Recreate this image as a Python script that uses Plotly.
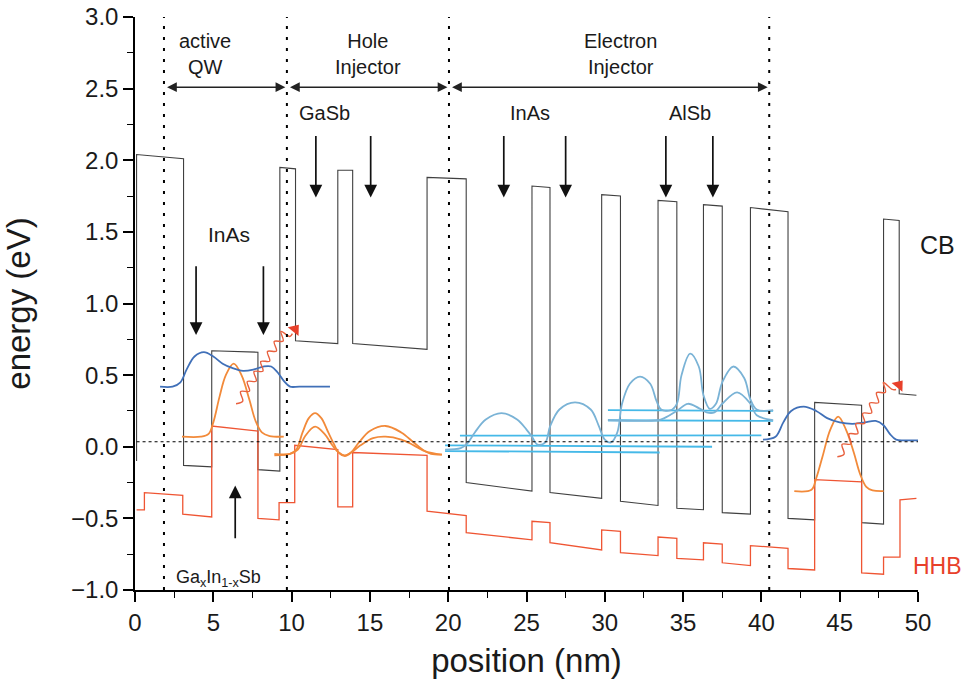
import plotly.graph_objects as go

# ---------------- data ----------------
cb_x = [0.1, 0.1, 3.1, 3.1, 4.9, 4.9, 7.85, 7.85, 9.25, 9.25, 10.25, 10.25, 12.95, 12.95, 13.9, 13.9,
        18.65, 18.65, 21.15, 21.15, 25.35, 25.35, 26.5, 26.5, 29.8, 29.8, 31.0, 31.0, 33.4, 33.4, 34.6,
        34.6, 36.3, 36.3, 37.5, 37.5, 39.3, 39.3, 41.7, 41.7, 43.4, 43.4, 46.4, 46.4, 47.8, 47.8, 48.8,
        48.8, 49.9]
cb_y = [-0.10, 2.04, 2.01, -0.13, -0.14, 0.67, 0.66, -0.16, -0.17, 1.95, 1.94, 0.74, 0.72, 1.93, 1.93,
        0.72, 0.68, 1.88, 1.87, -0.25, -0.31, 1.82, 1.81, -0.32, -0.36, 1.76, 1.75, -0.38, -0.41, 1.72,
        1.71, -0.43, -0.44, 1.69, 1.68, -0.46, -0.47, 1.67, 1.64, -0.50, -0.51, 0.31, 0.29, -0.53, -0.54,
        1.59, 1.58, 0.37, 0.36]

hh_x = [0.1, 0.6, 0.6, 3.05, 3.05, 4.9, 4.9, 7.85, 7.85, 9.2, 9.2, 10.2, 10.2, 12.95, 12.95, 13.9, 13.9,
        18.65, 18.65, 21.15, 21.15, 25.35, 25.35, 26.5, 26.5, 29.8, 29.8, 31.0, 31.0, 33.4, 33.4, 34.6,
        34.6, 36.3, 36.3, 37.5, 37.5, 39.3, 39.3, 41.7, 41.7, 43.4, 43.4, 46.4, 46.4, 47.8, 47.8, 48.85,
        48.85, 49.9]
hh_y = [-0.44, -0.44, -0.32, -0.34, -0.47, -0.49, 0.145, 0.11, -0.50, -0.51, -0.39, -0.39, 0.01, -0.02,
        -0.42, -0.42, -0.04, -0.06, -0.45, -0.48, -0.60, -0.65, -0.52, -0.53, -0.67, -0.72, -0.58, -0.59,
        -0.74, -0.76, -0.63, -0.64, -0.78, -0.79, -0.67, -0.68, -0.81, -0.83, -0.69, -0.71, -0.85, -0.86,
        -0.23, -0.245, -0.88, -0.89, -0.77, -0.77, -0.37, -0.36]

fermi_x = [0.1, 50.0]
fermi_y = [0.035, 0.035]

region_bounds = [1.85, 9.7, 20.05, 40.5]

# active QW (left)
qw1_blue_x = [1.6, 2.4, 2.9, 3.3, 3.8, 4.4, 5.0, 5.6, 6.2, 6.9, 7.6, 8.2, 8.7, 9.1, 9.5, 9.9, 10.5, 12.45]
qw1_blue_y = [0.42, 0.42, 0.45, 0.54, 0.63, 0.66, 0.63, 0.58, 0.55, 0.53, 0.54, 0.56, 0.56, 0.52, 0.46, 0.42, 0.42, 0.42]
qw1_orange_x = [3.0, 4.2, 4.7, 5.0, 5.4, 5.8, 6.3, 6.8, 7.3, 7.7, 8.1, 8.6, 9.5]
qw1_orange_y = [0.07, 0.07, 0.09, 0.17, 0.35, 0.50, 0.58, 0.50, 0.33, 0.18, 0.10, 0.075, 0.07]

# active QW (right)
qw2_blue_x = [40.1, 40.9, 41.4, 41.9, 42.7, 43.5, 44.2, 45.0, 45.8, 46.6, 47.3, 47.8, 48.2, 48.6, 49.2, 50.0]
qw2_blue_y = [0.05, 0.07, 0.17, 0.25, 0.28, 0.25, 0.20, 0.17, 0.16, 0.17, 0.18, 0.15, 0.09, 0.05, 0.045, 0.045]
qw2_orange_x = [42.1, 43.2, 43.5, 43.9, 44.4, 44.9, 45.4, 45.9, 46.3, 46.7, 47.1, 47.8]
qw2_orange_y = [-0.31, -0.30, -0.22, -0.07, 0.12, 0.21, 0.12, -0.04, -0.19, -0.28, -0.305, -0.31]

# hole injector states
hi_a_x = [8.9, 9.9, 10.3, 10.7, 11.1, 11.5, 11.9, 12.3, 12.7, 13.0, 13.4, 13.8, 14.3, 15.0, 16.0, 17.0, 17.8, 18.5, 18.9, 19.6]
hi_a_y = [-0.05, -0.05, -0.02, 0.10, 0.20, 0.235, 0.20, 0.11, 0.02, -0.04, -0.065, -0.04, 0.03, 0.11, 0.145, 0.10, 0.03, -0.03, -0.05, -0.055]
hi_b_x = [8.9, 9.9, 10.4, 10.9, 11.5, 12.1, 12.6, 13.0, 13.4, 13.8, 14.4, 15.2, 16.0, 17.0, 17.8, 18.5, 19.6]
hi_b_y = [-0.06, -0.05, -0.02, 0.08, 0.14, 0.09, 0.01, -0.04, -0.06, -0.04, 0.01, 0.06, 0.07, 0.05, 0.01, -0.03, -0.055]

# electron injector states (curves)
ei_1_x = [19.8, 20.8, 21.2, 21.7, 22.4, 23.4, 24.4, 25.0, 25.35, 25.7, 26.2, 26.5, 27.1, 28.1, 29.1, 29.6,
          30.0, 30.4, 30.8, 31.1, 31.6, 32.25, 32.9, 33.3, 33.6, 34.2, 34.6, 34.9, 35.45, 36.0, 36.3, 36.7,
          37.1, 37.5, 38.2, 38.9, 39.3, 39.7, 40.75]
ei_1_y = [-0.02, -0.01, 0.02, 0.10, 0.19, 0.235, 0.19, 0.12, 0.07, 0.015, 0.03, 0.14, 0.26, 0.31, 0.26, 0.15,
          0.05, 0.03, 0.10, 0.30, 0.44, 0.49, 0.44, 0.32, 0.26, 0.255, 0.30, 0.50, 0.65, 0.56, 0.36, 0.265,
          0.30, 0.45, 0.56, 0.48, 0.33, 0.26, 0.255]
ei_2_x = [30.2, 33.4, 33.8, 34.6, 35.3, 36.0, 36.5, 37.0, 37.5, 38.45, 39.3, 39.7, 40.75]
ei_2_y = [0.185, 0.185, 0.20, 0.25, 0.30, 0.27, 0.24, 0.24, 0.30, 0.38, 0.30, 0.22, 0.185]

# electron injector levels (flat lines)
lvl_x = [[20.75, 40.0], [19.8, 36.85], [19.8, 33.5], [30.2, 40.75], [30.2, 40.75]]
lvl_y = [[0.077, 0.08], [0.01, 0.0], [-0.03, -0.04], [0.255, 0.25], [0.185, 0.18]]

# photon squiggles
ph1_x = [6.45, 6.88, 6.74, 7.31, 7.17, 7.74, 7.60, 8.17, 8.03, 8.60, 8.46, 9.03, 8.89, 9.46, 9.32, 9.89, 10.05]
ph1_y = [0.30, 0.318, 0.385, 0.388, 0.455, 0.458, 0.525, 0.528, 0.595, 0.598, 0.665, 0.668, 0.735, 0.738, 0.805, 0.77, 0.79]
ph2_x = [44.85, 45.28, 45.15, 45.72, 45.59, 46.16, 46.03, 46.60, 46.47, 47.04, 46.91, 47.48, 47.35, 47.92, 47.79, 48.36, 48.6]
ph2_y = [-0.07, -0.052, 0.017, 0.020, 0.089, 0.092, 0.161, 0.164, 0.233, 0.236, 0.305, 0.308, 0.377, 0.380, 0.449, 0.40, 0.40]
ph_head_x = [10.22, 48.78]
ph_head_y = [0.82, 0.43]

# labels / arrows
region_labels = ["active<br>QW", "Hole<br>Injector", "Electron<br>Injector"]
region_label_x = [4.5, 14.9, 31.0]
region_arrow_x0 = [1.95, 9.8, 20.15]
region_arrow_x1 = [9.6, 19.95, 40.4]
down_arrow_x = [11.55, 15.05, 23.55, 27.5, 33.9, 36.9]
mat_labels = ["GaSb", "InAs", "AlSb"]
mat_label_x = [12.1, 25.2, 35.45]
qw_arrow_x = [3.9, 8.2]

CB_C = "#404040"
HH_C = "#ef5533"
BLUE = "#4070b8"
ORANGE = "#f28a3a"
LBC = "#7ab3d6"
LBL = "#45b9e8"
FONT = "Arial, Liberation Sans, sans-serif"
TXT = "#1a1a1a"

fig = go.Figure()

def line(x, y, color, width=1.3, dash=None, shape="linear"):
    fig.add_trace(go.Scatter(x=x, y=y, mode="lines", line=dict(color=color, width=width, dash=dash, shape=shape),
                             hoverinfo="skip", showlegend=False))

line(cb_x, cb_y, CB_C, 1.1)
line(hh_x, hh_y, HH_C, 1.3)

for lx, ly in zip(lvl_x, lvl_y):
    line(lx, ly, LBL, 1.8)
line(ei_1_x, ei_1_y, LBC, 1.8, shape="spline")
line(ei_2_x, ei_2_y, LBC, 1.8, shape="spline")

line(hi_a_x, hi_a_y, ORANGE, 1.8, shape="spline")
line(hi_b_x, hi_b_y, ORANGE, 1.8, shape="spline")
line(qw1_orange_x, qw1_orange_y, ORANGE, 1.8, shape="spline")
line(qw2_orange_x, qw2_orange_y, ORANGE, 1.8, shape="spline")
line(qw1_blue_x, qw1_blue_y, BLUE, 1.8, shape="spline")
line(qw2_blue_x, qw2_blue_y, BLUE, 1.8, shape="spline")

line(fermi_x, fermi_y, "black", 1.2, dash="dot")

line(ph1_x, ph1_y, "#e8603e", 1.4, shape="spline")
line(ph2_x, ph2_y, "#e8603e", 1.4, shape="spline")
fig.add_trace(go.Scatter(x=ph_head_x, y=ph_head_y, mode="markers",
                         marker=dict(symbol="triangle-up", size=12, angle=39, color="#e8402a"),
                         hoverinfo="skip", showlegend=False))

shapes = []
for b in region_bounds:
    shapes.append(dict(type="line", xref="x", yref="y", x0=b, x1=b, y0=-1, y1=3,
                       line=dict(color="black", width=2, dash="3px,8px")))

ann = []
for t, x in zip(region_labels, region_label_x):
    ann.append(dict(x=x, y=2.74, xref="x", yref="y", text=t, showarrow=False,
                    font=dict(family=FONT, size=20, color=TXT)))
for a, b in zip(region_arrow_x0, region_arrow_x1):
    ann.append(dict(x=b, y=2.51, ax=a, ay=2.51, xref="x", yref="y", axref="x", ayref="y", text="",
                    showarrow=True, arrowhead=2, arrowside="end+start", arrowsize=1.3, arrowwidth=1.5,
                    arrowcolor="#222", standoff=0, startstandoff=0))
for x in down_arrow_x:
    ann.append(dict(x=x, y=1.74, ax=x, ay=2.18, xref="x", yref="y", axref="x", ayref="y", text="",
                    showarrow=True, arrowhead=2, arrowsize=1.5, arrowwidth=1.7, arrowcolor="#111"))
for x in qw_arrow_x:
    ann.append(dict(x=x, y=0.78, ax=x, ay=1.27, xref="x", yref="y", axref="x", ayref="y", text="",
                    showarrow=True, arrowhead=2, arrowsize=1.5, arrowwidth=1.7, arrowcolor="#111"))
ann.append(dict(x=6.4, y=-0.27, ax=6.4, ay=-0.65, xref="x", yref="y", axref="x", ayref="y", text="",
                showarrow=True, arrowhead=2, arrowsize=1.5, arrowwidth=1.7, arrowcolor="#111"))
for t, x in zip(mat_labels, mat_label_x):
    ann.append(dict(x=x, y=2.33, xref="x", yref="y", text=t, showarrow=False,
                    font=dict(family=FONT, size=20, color=TXT)))
ann.append(dict(x=6.0, y=1.48, xref="x", yref="y", text="InAs", showarrow=False,
                font=dict(family=FONT, size=21, color=TXT)))
ann.append(dict(x=5.3, y=-0.92, xref="x", yref="y", text="Ga<sub>x</sub>In<sub>1-x</sub>Sb", showarrow=False,
                font=dict(family=FONT, size=18, color=TXT)))
ann.append(dict(x=1.0243, y=1.41, xref="paper", yref="y", xanchor="center", text="CB", showarrow=False,
                font=dict(family=FONT, size=25, color=TXT)))
ann.append(dict(x=1.0243, y=-0.83, xref="paper", yref="y", xanchor="center", text="HHB", showarrow=False,
                font=dict(family=FONT, size=23, color="#e8402a")))

fig.update_layout(
    width=977, height=682,
    margin=dict(l=135, r=59, t=17, b=92),
    paper_bgcolor="white", plot_bgcolor="white",
    font=dict(family=FONT, color=TXT),
    shapes=shapes, annotations=ann,
    xaxis=dict(range=[0, 50], showgrid=False, zeroline=False, showline=True, linecolor="black", linewidth=1.5,
               ticks="outside", tickcolor="black", ticklen=10, tickwidth=1.5, dtick=5, tick0=0,
               minor=dict(dtick=2.5, ticks="outside", ticklen=6, tickcolor="black", tickwidth=1.2),
               tickfont=dict(size=24, family=FONT, color=TXT), automargin=False,
               title=dict(text="position (nm)", font=dict(size=33, family=FONT, color=TXT), standoff=14)),
    yaxis=dict(range=[-1, 3], showgrid=False, zeroline=False, showline=True, linecolor="black", linewidth=1.5,
               ticks="outside", tickcolor="black", ticklen=10, tickwidth=1.5, dtick=0.5, tick0=0, tickformat=".1f",
               minor=dict(dtick=0.25, ticks="outside", ticklen=6, tickcolor="black", tickwidth=1.2),
               tickfont=dict(size=24, family=FONT, color=TXT), automargin=False,
               title=dict(text="energy (eV)", font=dict(size=33, family=FONT, color=TXT), standoff=32)),
)

fig.write_html("out.html")
